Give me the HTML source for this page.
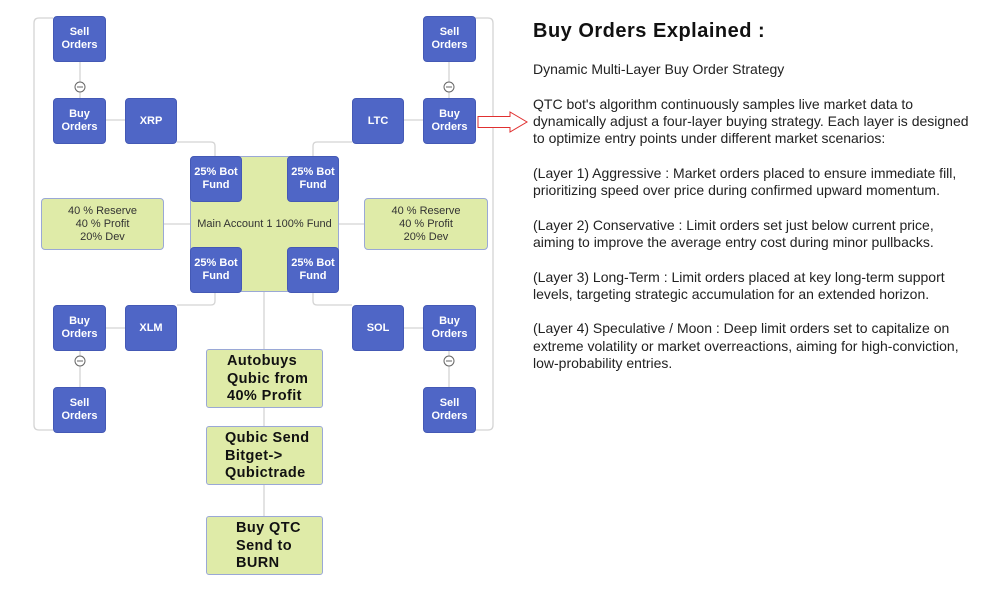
<!DOCTYPE html>
<html><head><meta charset="utf-8"><style>
body{margin:0;width:1000px;height:610px;background:#fff;position:relative;overflow:hidden;font-family:"Liberation Sans",sans-serif}
.b{position:absolute;background:#4f66c6;border:1px solid #4459b5;border-radius:4px;color:#fff;font-size:11px;font-weight:bold;display:flex;align-items:center;justify-content:center;text-align:center;line-height:13px;box-sizing:border-box}
.g{position:absolute;background:#dfeba8;border:1.5px solid #9aa8d6;border-radius:4px;box-sizing:border-box;color:#333;font-size:11px;display:flex;align-items:center;justify-content:center;text-align:center;line-height:13px}
.q{position:absolute;background:#dfeba8;border:1.5px solid #9aa8d6;border-radius:3px;box-sizing:border-box;color:#111;font-size:14.5px;font-weight:bold;line-height:17.5px;padding-top:3px;letter-spacing:.4px}
.t{position:absolute;left:533px;font-size:14px;color:#222;white-space:nowrap;line-height:17.3px}
svg{position:absolute;left:0;top:0}
</style></head><body>
<svg width="1000" height="610">
<g stroke="#d4d4d4" stroke-width="1.3" fill="none">
<path d="M53 18 H39 Q34 18 34 23 V425 Q34 430 39 430 H53"/>
<path d="M475 18 H488 Q493 18 493 23 V425 Q493 430 488 430 H475"/>
<path d="M80 62 V98 M80 343 V387 M449 62 V98 M449 351 V387"/>
<path d="M106 120 H125 M106 328 H125 M403 120 H423 M403 328 H423"/>
<path d="M177 142 H211 Q215 142 215 146 V156"/>
<path d="M352 142 H317 Q313 142 313 146 V156"/>
<path d="M177 305 H211 Q215 305 215 301 V292"/>
<path d="M352 305 H317 Q313 305 313 301 V292"/>
<path d="M164 224 H190 M339 224 H364"/>
<path d="M264 292 V349 M264 408 V426 M264 485 V516"/>
</g>
<g stroke="#666" stroke-width="1" fill="#fff">
<circle cx="80" cy="87" r="5"/><circle cx="449" cy="87" r="5"/>
<circle cx="80" cy="361" r="5"/><circle cx="449" cy="361" r="5"/>
</g>
<g stroke="#666" stroke-width="1"><path d="M77 87H83M446 87H452M77 361H83M446 361H452"/></g>
<path d="M478 116.5 H510 V112 L527 122 L510 132 V127.5 H478 Z" fill="#fff" stroke="#e03030" stroke-width="1"/>
</svg>
<div class="g" style="left:190px;top:156px;width:149px;height:136px;font-size:11px">Main Account 1 100% Fund</div>
<div class="b" style="left:53px;top:16px;width:53px;height:46px">Sell<br>Orders</div>
<div class="b" style="left:423px;top:16px;width:53px;height:46px">Sell<br>Orders</div>
<div class="b" style="left:53px;top:98px;width:53px;height:46px">Buy<br>Orders</div>
<div class="b" style="left:125px;top:98px;width:52px;height:46px">XRP</div>
<div class="b" style="left:352px;top:98px;width:52px;height:46px">LTC</div>
<div class="b" style="left:423px;top:98px;width:53px;height:46px">Buy<br>Orders</div>
<div class="b" style="left:190px;top:156px;width:52px;height:46px">25% Bot<br>Fund</div>
<div class="b" style="left:287px;top:156px;width:52px;height:46px">25% Bot<br>Fund</div>
<div class="b" style="left:190px;top:247px;width:52px;height:46px">25% Bot<br>Fund</div>
<div class="b" style="left:287px;top:247px;width:52px;height:46px">25% Bot<br>Fund</div>
<div class="g" style="left:41px;top:198px;width:123px;height:52px">40 % Reserve<br>40 % Profit<br>20% Dev</div>
<div class="g" style="left:364px;top:198px;width:124px;height:52px">40 % Reserve<br>40 % Profit<br>20% Dev</div>
<div class="b" style="left:53px;top:305px;width:53px;height:46px">Buy<br>Orders</div>
<div class="b" style="left:125px;top:305px;width:52px;height:46px">XLM</div>
<div class="b" style="left:352px;top:305px;width:52px;height:46px">SOL</div>
<div class="b" style="left:423px;top:305px;width:53px;height:46px">Buy<br>Orders</div>
<div class="b" style="left:53px;top:387px;width:53px;height:46px">Sell<br>Orders</div>
<div class="b" style="left:423px;top:387px;width:53px;height:46px">Sell<br>Orders</div>
<div class="q" style="left:206px;top:349px;width:117px;height:59px;padding-left:20px">Autobuys<br>Qubic from<br>40% Profit</div>
<div class="q" style="left:206px;top:426px;width:117px;height:59px;padding-left:18px">Qubic Send<br>Bitget-&gt;<br>Qubictrade</div>
<div class="q" style="left:206px;top:516px;width:117px;height:59px;padding-left:29px">Buy QTC<br>Send to<br>BURN</div>
<div class="t" style="top:18px;font-size:20px;font-weight:bold;color:#111;letter-spacing:.5px;line-height:26px">Buy Orders Explained :</div>
<div class="t" style="top:61px">Dynamic Multi-Layer Buy Order Strategy<br><br>QTC bot's algorithm continuously samples live market data to<br>dynamically adjust a four-layer buying strategy. Each layer is designed<br>to optimize entry points under different market scenarios:<br><br>(Layer 1) Aggressive : Market orders placed to ensure immediate fill,<br>prioritizing speed over price during confirmed upward momentum.<br><br>(Layer 2) Conservative : Limit orders set just below current price,<br>aiming to improve the average entry cost during minor pullbacks.<br><br>(Layer 3) Long-Term : Limit orders placed at key long-term support<br>levels, targeting strategic accumulation for an extended horizon.<br><br>(Layer 4) Speculative / Moon : Deep limit orders set to capitalize on<br>extreme volatility or market overreactions, aiming for high-conviction,<br>low-probability entries.</div>
</body></html>
